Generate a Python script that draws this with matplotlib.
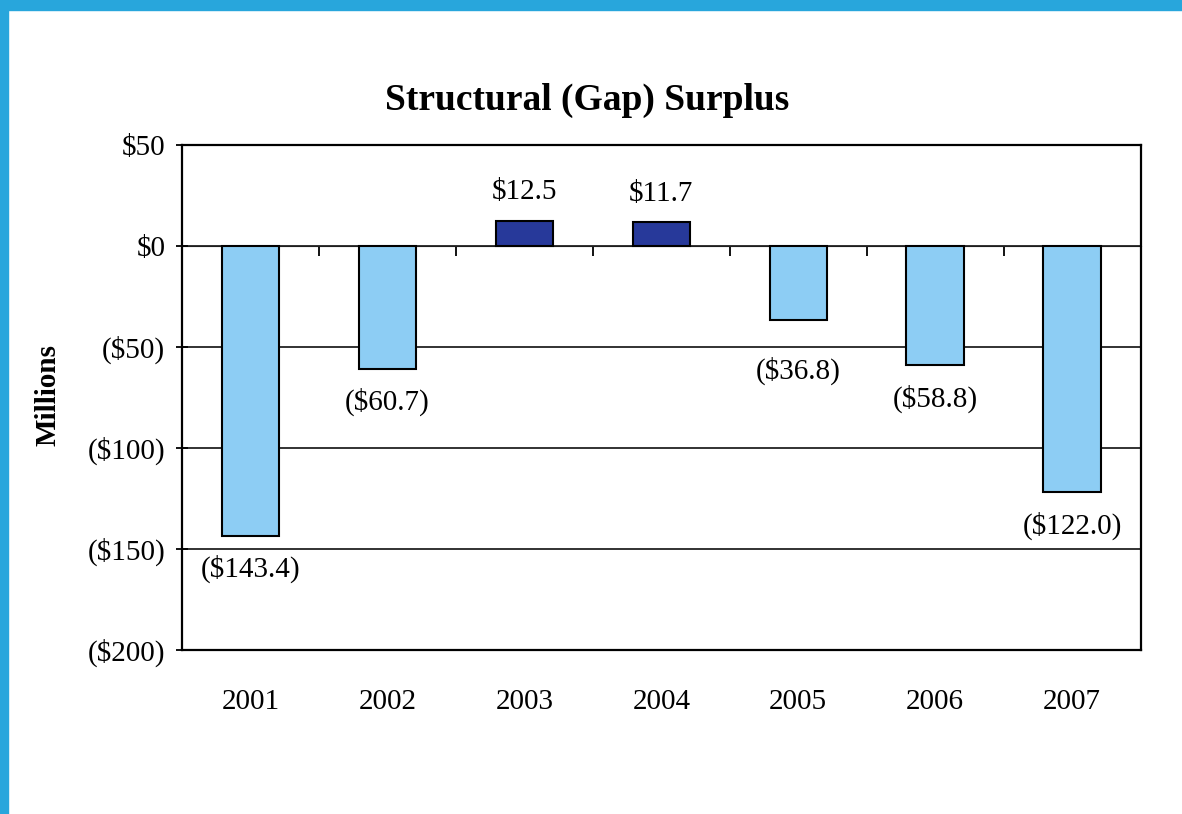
import matplotlib.pyplot as plt
from matplotlib.patches import Rectangle

years = ['2001', '2002', '2003', '2004', '2005', '2006', '2007']
surplus = [-143.4, -60.7, 12.5, 11.7, -36.8, -58.8, -122.0]
bar_labels = ['($143.4)', '($60.7)', '$12.5', '$11.7', '($36.8)', '($58.8)', '($122.0)']
y_ticks = [50, 0, -50, -100, -150, -200]
y_tick_labels = ['$50', '$0', '($50)', '($100)', '($150)', '($200)']

light = '#8dcdf4'
dark = '#27399a'

plt.rcParams['font.family'] = ['Liberation Serif', 'DejaVu Serif']

fig = plt.figure(figsize=(11.82, 8.14), dpi=100)
fig.patch.set_facecolor('white')

# blue frame along the left and top edges of the page
fig.patches.append(Rectangle((0, 0), 8 / 1182, 1, transform=fig.transFigure,
                             color='#28a6dc', zorder=0))
fig.patches.append(Rectangle((0, 1 - 10 / 814), 1, 10 / 814, transform=fig.transFigure,
                             color='#28a6dc', zorder=0))

ax = fig.add_axes([0.154, 0.2015, 0.811, 0.6204])

x = list(range(len(years)))
colors = [dark if v > 0 else light for v in surplus]
bars = ax.bar(x, surplus, width=0.42, color=colors, edgecolor='black', linewidth=1.5, zorder=3)

# the 2005 label is pushed down so it clears the ($50) gridline
extra_drop = {'2005': 12}
for yr, b, v, lab in zip(years, bars, surplus, bar_labels):
    cx = b.get_x() + b.get_width() / 2
    if v >= 0:
        ax.annotate(lab, (cx, v), xytext=(0, 11), textcoords='offset points',
                    ha='center', va='bottom', fontsize=21)
    else:
        ax.annotate(lab, (cx, v), xytext=(0, -14 - extra_drop.get(yr, 0)),
                    textcoords='offset points', ha='center', va='top', fontsize=21)

ax.set_xlim(-0.5, len(years) - 0.5)
ax.set_ylim(-200, 50)
ax.set_yticks(y_ticks)
ax.set_yticklabels(y_tick_labels, fontsize=21)
ax.tick_params(axis='y', length=8, width=1.3, pad=8, direction='inout')

ax.set_xticks(x)
ax.set_xticklabels(years, fontsize=21)
ax.tick_params(axis='x', length=0, pad=28)

ax.yaxis.grid(True, color='#222222', linewidth=1.3)
ax.set_axisbelow(True)
for s in ax.spines.values():
    s.set_linewidth(1.6)
    s.set_color('black')

# category axis line at zero with marks between the bars, pointing down
zero_pos = (0 - (-200)) / 250
sec = ax.secondary_xaxis(zero_pos)
sec.set_xticks([i + 0.5 for i in x[:-1]])
sec.set_xticklabels([])
sec.tick_params(axis='x', length=7, width=1.3, direction='in')

fig.text(0.497, 0.877, 'Structural (Gap) Surplus', ha='center', va='center',
         fontsize=27, fontweight='bold')
fig.text(0.041, 0.515, 'Millions', ha='center', va='center', rotation=90,
         fontsize=21, fontweight='bold')

fig.savefig('out.png', dpi=100)
